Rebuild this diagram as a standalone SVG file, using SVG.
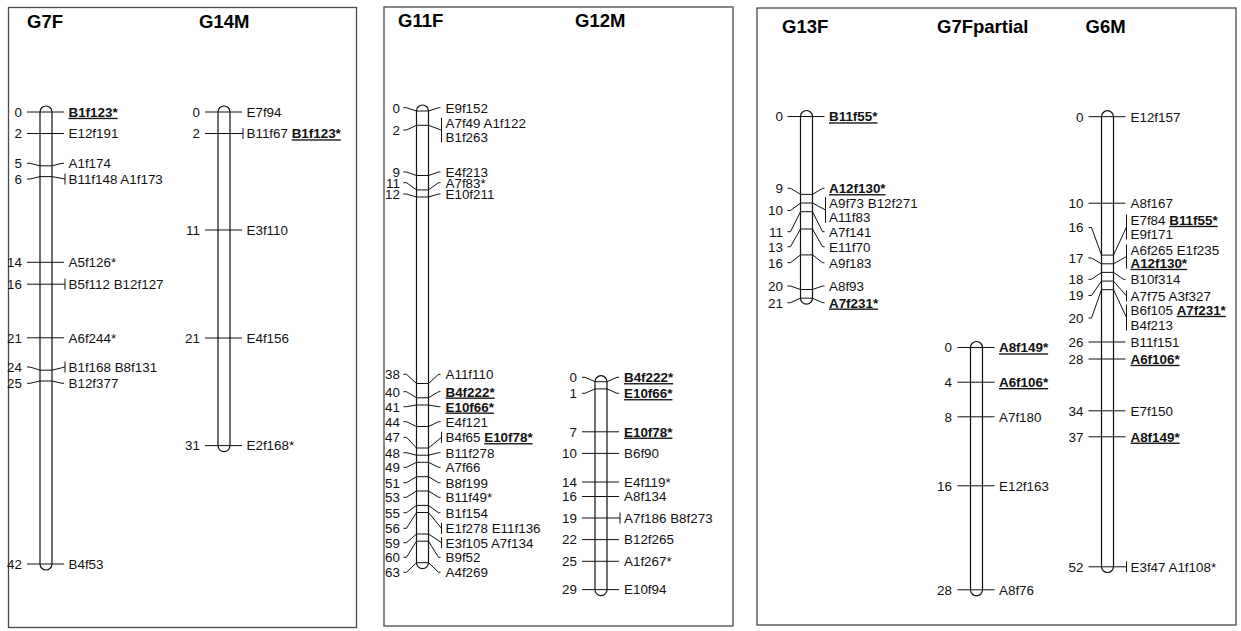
<svg xmlns="http://www.w3.org/2000/svg" width="1241" height="631" viewBox="0 0 1241 631">
<style>
.frame{fill:none;stroke:#4a4a4a;stroke-width:1.3}
.title{font-family:"Liberation Sans",Arial,sans-serif;font-weight:bold;font-size:18.5px;fill:#000}
.t{font-family:"Liberation Sans",Arial,sans-serif;font-size:13.4px;fill:#111}
.n{text-anchor:end}
.b{font-weight:bold;text-decoration:underline}
.bar{fill:#fff;stroke:#111;stroke-width:1.2}
.c{fill:none;stroke:#111;stroke-width:1}
</style>
<rect width="1241" height="631" fill="#fff"/>
<g id="panels">
<rect class="frame" x="8.5" y="7.5" width="348" height="620"/>
<rect class="frame" x="384" y="7" width="349" height="619"/>
<rect class="frame" x="757" y="8" width="479" height="617"/>
<text class="title" x="27" y="28">G7F</text>
<text class="title" x="199" y="28">G14M</text>
<text class="title" x="398" y="27">G11F</text>
<text class="title" x="575" y="27">G12M</text>
<text class="title" x="782" y="32.5">G13F</text>
<text class="title" x="937" y="32.5">G7Fpartial</text>
<text class="title" x="1085.5" y="32.5">G6M</text>
</g>

<g id="G7F">
<rect class="bar" x="40" y="106" width="12" height="464" rx="6"/>
<g class="t n">
<text x="22" y="116.8">0</text><text x="22" y="138.3">2</text><text x="22" y="168.1">5</text><text x="22" y="183.8">6</text>
<text x="22" y="267.1">14</text><text x="22" y="289">16</text><text x="22" y="342.6">21</text><text x="22" y="371.8">24</text>
<text x="22" y="388.1">25</text><text x="22" y="568.8">42</text>
</g>
<g class="t">
<text x="68.5" y="116.8"><tspan class="b">B1f123*</tspan></text>
<text x="68.5" y="138.3">E12f191</text>
<text x="68.5" y="168.1">A1f174</text>
<text x="68.5" y="183.8">B11f148 A1f173</text>
<text x="68.5" y="267.1">A5f126*</text>
<text x="68.5" y="289">B5f112 B12f127</text>
<text x="68.5" y="342.6">A6f244*</text>
<text x="68.5" y="371.8">B1f168 B8f131</text>
<text x="68.5" y="388.1">B12f377</text>
<text x="68.5" y="568.8">B4f53</text>
</g>
</g>

<g id="G14M">
<rect class="bar" x="218" y="106" width="12" height="345.6" rx="6"/>
<g class="t n">
<text x="200" y="116.8">0</text><text x="200" y="138.3">2</text><text x="200" y="234.8">11</text><text x="200" y="342.8">21</text><text x="200" y="450.4">31</text>
</g>
<g class="t">
<text x="246.5" y="116.8">E7f94</text>
<text x="246.5" y="138.3">B11f67 <tspan class="b">B1f123*</tspan></text>
<text x="246.5" y="234.8">E3f110</text>
<text x="246.5" y="342.8">E4f156</text>
<text x="246.5" y="450.4">E2f168*</text>
</g>
</g>

<g id="G11F">
<rect class="bar" x="416.5" y="105" width="12" height="463.7" rx="6"/>
<g class="t n">
<text x="400" y="112.5">0</text><text x="400" y="134.8">2</text><text x="400" y="176.8">9</text><text x="400" y="187.5">11</text>
<text x="400" y="198.8">12</text><text x="400" y="379.1">38</text><text x="400" y="396.5">40</text><text x="400" y="411.5">41</text>
<text x="400" y="426.5">44</text><text x="400" y="442.1">47</text><text x="400" y="457.5">48</text><text x="400" y="472.1">49</text>
<text x="400" y="487.5">51</text><text x="400" y="502.1">53</text><text x="400" y="517.5">55</text><text x="400" y="533.1">56</text>
<text x="400" y="547.5">59</text><text x="400" y="562.1">60</text><text x="400" y="577.1">63</text>
</g>
<g class="t">
<text x="445.5" y="112.5">E9f152</text>
<text x="445.5" y="128.1">A7f49 A1f122</text>
<text x="445.5" y="141.8">B1f263</text>
<text x="445.5" y="176.8">E4f213</text>
<text x="445.5" y="187.5">A7f83*</text>
<text x="445.5" y="198.8">E10f211</text>
<text x="445.5" y="379.1">A11f110</text>
<text x="445.5" y="396.5"><tspan class="b">B4f222*</tspan></text>
<text x="445.5" y="411.5"><tspan class="b">E10f66*</tspan></text>
<text x="445.5" y="426.5">E4f121</text>
<text x="445.5" y="442.1">B4f65 <tspan class="b">E10f78*</tspan></text>
<text x="445.5" y="457.5">B11f278</text>
<text x="445.5" y="472.1">A7f66</text>
<text x="445.5" y="487.5">B8f199</text>
<text x="445.5" y="502.1">B11f49*</text>
<text x="445.5" y="517.5">B1f154</text>
<text x="445.5" y="533.1">E1f278 E11f136</text>
<text x="445.5" y="547.5">E3f105 A7f134</text>
<text x="445.5" y="562.1">B9f52</text>
<text x="445.5" y="577.1">A4f269</text>
</g>
</g>

<g id="G12M">
<rect class="bar" x="595" y="375.7" width="12" height="220" rx="6"/>
<g class="t n">
<text x="577" y="382.1">0</text><text x="577" y="398.1">1</text><text x="577" y="436.6">7</text><text x="577" y="458.2">10</text>
<text x="577" y="486.8">14</text><text x="577" y="501.3">16</text><text x="577" y="522.8">19</text><text x="577" y="544.4">22</text>
<text x="577" y="566.1">25</text><text x="577" y="594.4">29</text>
</g>
<g class="t">
<text x="624" y="382.1"><tspan class="b">B4f222*</tspan></text>
<text x="624" y="398.1"><tspan class="b">E10f66*</tspan></text>
<text x="624" y="436.6"><tspan class="b">E10f78*</tspan></text>
<text x="624" y="458.2">B6f90</text>
<text x="624" y="486.8">E4f119*</text>
<text x="624" y="501.3">A8f134</text>
<text x="624" y="522.8">A7f186 B8f273</text>
<text x="624" y="544.4">B12f265</text>
<text x="624" y="566.1">A1f267*</text>
<text x="624" y="594.4">E10f94</text>
</g>
</g>

<g id="G13F">
<rect class="bar" x="800.5" y="110.5" width="12" height="193.7" rx="6"/>
<g class="t n">
<text x="783" y="121.3">0</text><text x="783" y="193.1">9</text><text x="783" y="215.3">10</text><text x="783" y="236.5">11</text>
<text x="783" y="251.5">13</text><text x="783" y="267.5">16</text><text x="783" y="290.8">20</text><text x="783" y="307.5">21</text>
</g>
<g class="t">
<text x="829" y="121.3"><tspan class="b">B11f55*</tspan></text>
<text x="829" y="193.1"><tspan class="b">A12f130*</tspan></text>
<text x="829" y="207.5">A9f73 B12f271</text>
<text x="829" y="222.1">A11f83</text>
<text x="829" y="236.5">A7f141</text>
<text x="829" y="251.5">E11f70</text>
<text x="829" y="267.5">A9f183</text>
<text x="829" y="290.8">A8f93</text>
<text x="829" y="307.5"><tspan class="b">A7f231*</tspan></text>
</g>
</g>

<g id="G7Fpartial">
<rect class="bar" x="970.5" y="341.5" width="12" height="254.3" rx="6"/>
<g class="t n">
<text x="952" y="352.3">0</text><text x="952" y="387">4</text><text x="952" y="421.6">8</text><text x="952" y="490.6">16</text><text x="952" y="594.6">28</text>
</g>
<g class="t">
<text x="999" y="352.3"><tspan class="b">A8f149*</tspan></text>
<text x="999" y="387"><tspan class="b">A6f106*</tspan></text>
<text x="999" y="421.6">A7f180</text>
<text x="999" y="490.6">E12f163</text>
<text x="999" y="594.6">A8f76</text>
</g>
</g>

<g id="G6M">
<rect class="bar" x="1101.5" y="110.7" width="12" height="461.8" rx="6"/>
<g class="t n">
<text x="1083.5" y="121.5">0</text><text x="1083.5" y="208">10</text><text x="1083.5" y="232.3">16</text><text x="1083.5" y="262.8">17</text>
<text x="1083.5" y="284.1">18</text><text x="1083.5" y="300.3">19</text><text x="1083.5" y="322.8">20</text><text x="1083.5" y="346.8">26</text>
<text x="1083.5" y="363.8">28</text><text x="1083.5" y="415.6">34</text><text x="1083.5" y="441.6">37</text><text x="1083.5" y="571.6">52</text>
</g>
<g class="t">
<text x="1130.5" y="121.5">E12f157</text>
<text x="1130.5" y="208">A8f167</text>
<text x="1130.5" y="224.8">E7f84 <tspan class="b">B11f55*</tspan></text>
<text x="1130.5" y="238.8">E9f171</text>
<text x="1130.5" y="254.8">A6f265 E1f235</text>
<text x="1130.5" y="267.8"><tspan class="b">A12f130*</tspan></text>
<text x="1130.5" y="284.1">B10f314</text>
<text x="1130.5" y="300.8">A7f75 A3f327</text>
<text x="1130.5" y="314.8">B6f105 <tspan class="b">A7f231*</tspan></text>
<text x="1130.5" y="329.8">B4f213</text>
<text x="1130.5" y="346.8">B11f151</text>
<text x="1130.5" y="363.8"><tspan class="b">A6f106*</tspan></text>
<text x="1130.5" y="415.6">E7f150</text>
<text x="1130.5" y="441.6"><tspan class="b">A8f149*</tspan></text>
<text x="1130.5" y="571.6">E3f47 A1f108*</text>
</g>
</g>

<g id="connectors" class="c">
<path id="c-G7F" d="M27 112H64M27 133.5H64M27 163.3H30L40 165.8H52L62 163.3H64M27 179H30L40 176.6H52L65 179M65 173.5V184.5M27 262.3H64M27 284.2H65M65 278.7V289.7M27 337.8H64M27 367H30L40 370.2H52L65 367M65 361.5V372.5M27 383.3H30L40 381H52L62 383.3H64M27 564H64"/>
<path id="c-G14M" d="M205 112H242M205 133.5H243M243 128V139M205 230H242M205 338H242M205 445.6H242"/>
<path id="c-G11F" d="M403.5 107.7H406.5L416.5 111H428.5L438.5 107.7H440.5M403.5 130H406.5L416.5 125.3H428.5L441.5 130.2M441.5 117.8V142.5M403.5 172H406.5L416.5 175.5H428.5L438.5 172H440.5M403.5 182.7H406.5L416.5 189.9H428.5L438.5 182.7H440.5M403.5 194H406.5L416.5 197H428.5L438.5 194H440.5M403.5 374.3H406.5L416.5 383.5H428.5L438.5 374.3H440.5M403.5 391.7H406.5L416.5 397.8H428.5L438.5 391.7H440.5M403.5 406.7H406.5L416.5 405H428.5L438.5 406.7H440.5M403.5 421.7H406.5L416.5 426.5H428.5L438.5 421.7H440.5M403.5 437.3H406.5L416.5 448H428.5L441.5 437.3M441.5 431.8V442.8M403.5 452.7H406.5L416.5 455.2H428.5L438.5 452.7H440.5M403.5 467.3H406.5L416.5 462.3H428.5L438.5 467.3H440.5M403.5 482.7H406.5L416.5 476.7H428.5L438.5 482.7H440.5M403.5 497.3H406.5L416.5 491H428.5L438.5 497.3H440.5M403.5 512.7H406.5L416.5 505.4H428.5L438.5 512.7H440.5M403.5 528.3H406.5L416.5 512.5H428.5L441.5 528.3M441.5 522.8V533.8M403.5 542.7H406.5L416.5 534H428.5L441.5 542.7M441.5 537.2V548.2M403.5 557.3H406.5L416.5 541.2H428.5L438.5 557.3H440.5M403.5 572.3H406.5L416.5 562.7H428.5L438.5 572.3H440.5"/>
<path id="c-G12M" d="M582 377.3H585L595 381.7H607L617 377.3H619M582 393.3H585L595 388.9H607L617 393.3H619M582 431.8H619M582 453.4H619M582 482H619M582 496.5H619M582 518H620M620 512.5V523.5M582 539.6H619M582 561.3H619M582 589.6H619"/>
<path id="c-G13F" d="M787.5 116.5H824.5M787.5 188.3H790.5L800.5 194.4H812.5L822.5 188.3H824.5M787.5 210.5H790.5L800.5 203H812.5L825.5 210M825.5 197.2V222.8M787.5 231.7H790.5L800.5 211.7H812.5L822.5 231.7H824.5M787.5 246.7H790.5L800.5 229H812.5L822.5 246.7H824.5M787.5 262.7H790.5L800.5 254.9H812.5L822.5 262.7H824.5M787.5 286H790.5L800.5 289.5H812.5L822.5 286H824.5M787.5 302.7H790.5L800.5 298.2H812.5L822.5 302.7H824.5"/>
<path id="c-G7Fpartial" d="M957.5 347.5H994.5M957.5 382.2H994.5M957.5 416.8H994.5M957.5 485.8H994.5M957.5 589.8H994.5"/>
<path id="c-G6M" d="M1088.5 116.7H1125.5M1088.5 203.2H1125.5M1088.5 227.5H1091.5L1101.5 255.1H1113.5L1126.5 227M1126.5 214.5V239.5M1088.5 258H1091.5L1101.5 263.8H1113.5L1126.5 256.5M1126.5 244.5V268.5M1088.5 279.3H1091.5L1101.5 272.4H1113.5L1123.5 279.3H1125.5M1088.5 295.5H1091.5L1101.5 281.1H1113.5L1126.5 296M1126.5 290.5V301.5M1088.5 318H1091.5L1101.5 289.7H1113.5L1126.5 317.5M1126.5 304.5V330.5M1088.5 342H1125.5M1088.5 359H1125.5M1088.5 410.8H1125.5M1088.5 436.8H1125.5M1088.5 566.8H1126.5M1126.5 561.3V572.3"/>
</g>
</svg>
